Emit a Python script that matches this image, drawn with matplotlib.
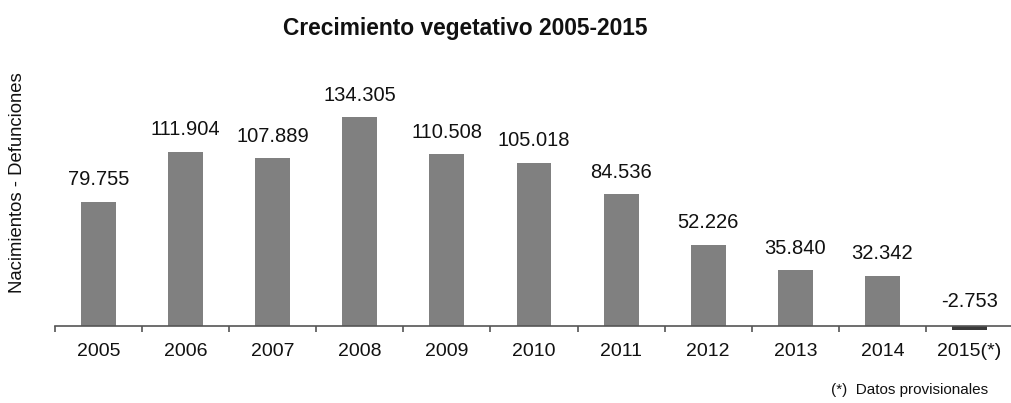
import matplotlib
matplotlib.use("Agg")
import matplotlib.pyplot as plt
from matplotlib.ticker import FixedLocator

years = ["2005", "2006", "2007", "2008", "2009", "2010",
         "2011", "2012", "2013", "2014", "2015(*)"]
growth = [79755, 111904, 107889, 134305, 110508, 105018,
          84536, 52226, 35840, 32342, -2753]
value_labels = ["79.755", "111.904", "107.889", "134.305", "110.508", "105.018",
                "84.536", "52.226", "35.840", "32.342", "-2.753"]

plt.rcParams["font.family"] = ["Liberation Sans", "DejaVu Sans"]

W, H = 1011, 403
fig = plt.figure(figsize=(W / 100, H / 100), dpi=100)
# axes placed in pixel terms: x 55..1013, y 60..340 (from top)
ax = fig.add_axes([55 / W, (H - 340) / H, 958 / W, 280 / H])

x = list(range(len(years)))
colors = ["#808080" if v >= 0 else "#3a3a3a" for v in growth]
ax.bar(x, growth, width=0.40, color=colors, edgecolor="none", zorder=2)

for xi, v, lab in zip(x, growth, value_labels):
    ax.annotate(lab, (xi, max(v, 0)), xytext=(0, 9 if v >= 0 else 11),
                textcoords="offset points", ha="center", va="bottom",
                fontsize=14.5, color="#111111")

ax.set_xlim(-0.5, len(years) - 0.5)
ax.set_ylim(-9000, 171000)

for side in ["top", "right", "left"]:
    ax.spines[side].set_visible(False)
ax.spines["bottom"].set_position(("data", 0))
ax.spines["bottom"].set_color("#555555")
ax.spines["bottom"].set_linewidth(1.2)
ax.set_yticks([])

ax.set_xticks(x)
ax.set_xticklabels(years, fontsize=14, color="#111111")
ax.tick_params(axis="x", which="major", length=0, pad=12.5)
ax.xaxis.set_minor_locator(FixedLocator([i - 0.5 for i in range(len(years) + 1)]))
ax.tick_params(axis="x", which="minor", length=4, width=1.2, color="#555555")

fig.text(465 / W, 1 - 28 / H, "Crecimiento vegetativo 2005-2015",
         ha="center", va="center", fontsize=16.4, fontweight="bold", color="#111111")
fig.text(18 / W, 1 - 183 / H, "Nacimientos - Defunciones", rotation=90,
         ha="center", va="center", fontsize=13.3, color="#111111")
fig.text(910 / W, 1 - 390 / H, "(*)  Datos provisionales",
         ha="center", va="center", fontsize=11, color="#111111")

fig.savefig("out.png", dpi=100)
